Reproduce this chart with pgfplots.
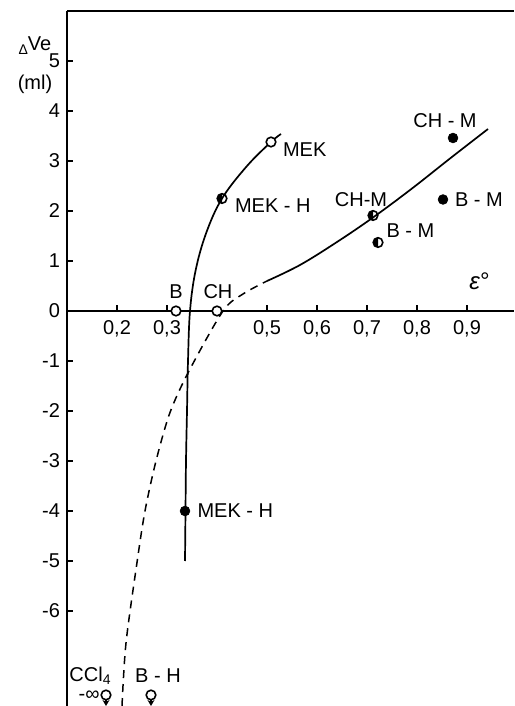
\documentclass[border=0pt]{standalone}
\usepackage{pgfplots}
\pgfplotsset{compat=1.18}
\usepackage{fontspec}
\setmainfont{Liberation Sans}
\usetikzlibrary{arrows.meta}
\pgfdeclareplotmark{halfcirc}{%
  \pgfpathmoveto{\pgfpoint{0pt}{\pgfplotmarksize}}%
  \pgfpatharc{90}{270}{\pgfplotmarksize}%
  \pgfpathclose\pgfusepathqfill
  \pgfpathcircle{\pgfpoint{0pt}{0pt}}{\pgfplotmarksize}%
  \pgfusepathqstroke}
\begin{document}
\fontsize{10}{12}\selectfont
\begin{tikzpicture}
\begin{axis}[name=ax,
  scale only axis, width=223.5pt, height=347.5pt,
  xmin=0.1, xmax=0.994, ymin=-7.9, ymax=6.0,
  axis x line=middle, axis y line=left,
  axis line style={-, line width=0.9pt},
  every tick/.style={black, line width=0.7pt},
  major tick length=3pt,
  tick align=inside,
  xtick={0.2,0.3,0.5,0.6,0.7,0.8,0.9},
  xticklabels={{0,2},{0,3},{0,5},{0,6},{0,7},{0,8},{0,9}},
  ytick={-6,-5,-4,-3,-2,-1,0,1,2,3,4,5},
  yticklabels={-6,-5,-4,-3,-2,-1,0,1,2,3,4,5},
  x tick label style={font=\fontsize{10}{12}\selectfont, yshift=-1pt},
  y tick label style={font=\fontsize{10}{12}\selectfont},
  clip=false,
  mark size=2.4pt,
]
% curves
\addplot[black, line width=0.85pt, smooth, tension=0.6] coordinates {
 (0.336,-5.0) (0.337,-4.0) (0.338,-3.0) (0.340,-2.0) (0.342,-1.0)
 (0.346,0.0) (0.357,0.8) (0.378,1.55) (0.41,2.25) (0.46,2.9) (0.508,3.38) (0.528,3.54)};
\addplot[black, line width=0.75pt, dashed, dash pattern=on 4pt off 3pt, smooth, tension=0.5] coordinates {
 (0.21,-7.9) (0.218,-6.64) (0.24,-5.03) (0.256,-4.0) (0.278,-3.0) (0.306,-2.03)
 (0.344,-1.2) (0.412,0.0) (0.452,0.34) (0.5,0.6)};
\addplot[black, line width=0.85pt, smooth, tension=0.6] coordinates {
 (0.5,0.6) (0.566,0.92) (0.64,1.38) (0.712,1.87) (0.79,2.45) (0.866,3.05) (0.942,3.64)};
% open circles
\addplot[only marks, mark=*, mark options={fill=white, draw=black, line width=0.8pt}] coordinates {
 (0.318,0) (0.40,0) (0.508,3.38) (0.178,-7.68) (0.268,-7.68)};
% half filled
\addplot[only marks, mark=halfcirc, mark options={draw=black, fill=black, line width=0.8pt}] coordinates {
 (0.41,2.25) (0.712,1.91) (0.722,1.37)};
% filled
\addplot[only marks, mark=*, mark options={fill=black, draw=black}] coordinates {
 (0.336,-4.0) (0.872,3.46) (0.852,2.23)};
% arrows
\addplot[black, line width=0.8pt, -{Stealth[length=3pt,width=3.5pt]}] coordinates {(0.178,-7.75) (0.178,-7.9)};
\addplot[black, line width=0.8pt, -{Stealth[length=3pt,width=3.5pt]}] coordinates {(0.268,-7.75) (0.268,-7.9)};
% labels
\node[anchor=south] at (axis cs:0.318,0.1) {B};
\node[anchor=south] at (axis cs:0.402,0.1) {CH};
\node[anchor=west] at (axis cs:0.518,3.22) {MEK};
\node[anchor=west] at (axis cs:0.422,2.11) {MEK - H};
\node[anchor=west] at (axis cs:0.347,-4.0) {MEK - H};
\node at (axis cs:0.688,2.22) {CH-M};
\node[anchor=west] at (axis cs:0.725,1.61) {B - M};
\node at (axis cs:0.856,3.8) {CH - M};
\node[anchor=west] at (axis cs:0.862,2.23) {B - M};
\node at (axis cs:0.147,-7.3) {CCl\textsubscript{4}};
\node at (axis cs:0.282,-7.3) {B - H};
\node[anchor=east, inner sep=1pt] at (axis cs:0.17,-7.7) {-∞};
\node at (axis cs:0.925,0.6) {\large\textit{ε}°};
\node at (axis cs:0.036,5.3) {\scriptsize Δ\raisebox{2pt}{\normalsize Ve}};
\node at (axis cs:0.036,4.53) {(ml)};
\draw[line width=0.9pt] (rel axis cs:0,1) -- (rel axis cs:1,1);
\end{axis}
\pgfresetboundingbox
\path ([xshift=-33.5pt]ax.south west) rectangle ([yshift=5.5pt]ax.north east);
\end{tikzpicture}
\end{document}
